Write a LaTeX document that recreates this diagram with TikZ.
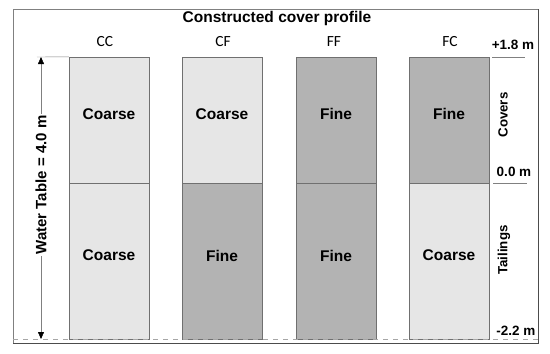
\documentclass[tikz,border=0pt]{standalone}
\usepackage{fontspec}
\setmainfont{Liberation Sans}
\newfontfamily\calfont{Carlito}
\usetikzlibrary{positioning,arrows.meta}
\definecolor{coarsefill}{HTML}{E6E6E6}
\definecolor{finefill}{HTML}{B3B3B3}
\definecolor{edgegray}{HTML}{707070}
\tikzset{
  coarse/.style={draw=edgegray, fill=coarsefill, minimum width=80pt, inner sep=0pt, font=\bfseries\fontsize{15.5}{18}\selectfont, text depth=12pt},
  fine/.style={coarse, fill=finefill},
  toplayer/.style={minimum height=126pt},
  botlayer/.style={minimum height=156pt},
  collabel/.style={font=\calfont\fontsize{15.5}{18}\selectfont},
  elevlabel/.style={font=\bfseries\fontsize{13.5}{16}\selectfont, inner sep=1pt},
  sidelabel/.style={font=\bfseries\fontsize{13.3}{16}\selectfont, rotate=90},
  tick/.style={draw=gray, thick},
  wtarrow/.style={{Triangle[width=6pt,length=7pt,black]}-{Triangle[width=6pt,length=7pt,black]}, draw=gray}
}
\begin{document}
\begin{tikzpicture}[x=1pt, y=-1pt]
  \useasboundingbox (0,0) rectangle (550,354);
  \draw[gray] (13,9) rectangle (538,343);
  \draw[black!70] (538,9) -- (538,343) -- (13,343);
  \node[font=\bfseries\fontsize{15.5}{18}\selectfont] (title) at (277,18) {Constructed cover profile};
  % cover layers
  \node[coarse, toplayer] (cc-top) at (109,120) {Coarse};
  \node[coarse, toplayer] (cf-top) at (222,120) {Coarse};
  \node[fine, toplayer] (ff-top) at (336,120) {Fine};
  \node[fine, toplayer] (fc-top) at (449,120) {Fine};
  % tailings layers
  \node[coarse, botlayer, below=0pt of cc-top] (cc-bot) {Coarse};
  \node[fine, botlayer, below=0pt of cf-top] (cf-bot) {Fine};
  \node[fine, botlayer, below=0pt of ff-top] (ff-bot) {Fine};
  \node[coarse, botlayer, below=0pt of fc-top] (fc-bot) {Coarse};
  % column names
  \node[collabel] (cc) at (105,42) {CC};
  \node[collabel] (cf) at (223,42) {CF};
  \node[collabel] (ff) at (334,42) {FF};
  \node[collabel] (fc) at (450,42) {FC};
  % base of tailings
  \coordinate (base-left) at (13,339);
  \coordinate (base-right) at (538,339);
  \draw[gray!70, dashed, thick, dash pattern=on 5pt off 5pt] (base-left) -- (base-right);
  % water table
  \coordinate (wt-top) at (41,57);
  \coordinate (wt-bot) at (41,339);
  \coordinate (wt-left) at (37,57);
  \draw[gray] (wt-left) -- (cc-top.north west);
  \draw[wtarrow] (wt-top) -- (wt-bot);
  \node[sidelabel, font=\bfseries\fontsize{15}{18}\selectfont, fill=white, inner sep=2pt] (wt-label) at (41,185) {Water Table = 4.0 m};
  % elevations
  \node[elevlabel] (e-top) at (513,45) {+1.8 m};
  \node[elevlabel] (e-mid) at (514,172) {0.0 m};
  \node[elevlabel] (e-bot) at (516,331) {-2.2 m};
  \coordinate (t1a) at (492,57);
  \coordinate (t1b) at (525,57);
  \coordinate (t2a) at (493,183);
  \coordinate (t2b) at (527,183);
  \draw[tick] (t1a) -- (t1b);
  \draw[tick] (t2a) -- (t2b);
  \node[sidelabel] (covers) at (503,115) {Covers};
  \node[sidelabel] (tailings) at (504,250) {Tailings};
\end{tikzpicture}
\end{document}
